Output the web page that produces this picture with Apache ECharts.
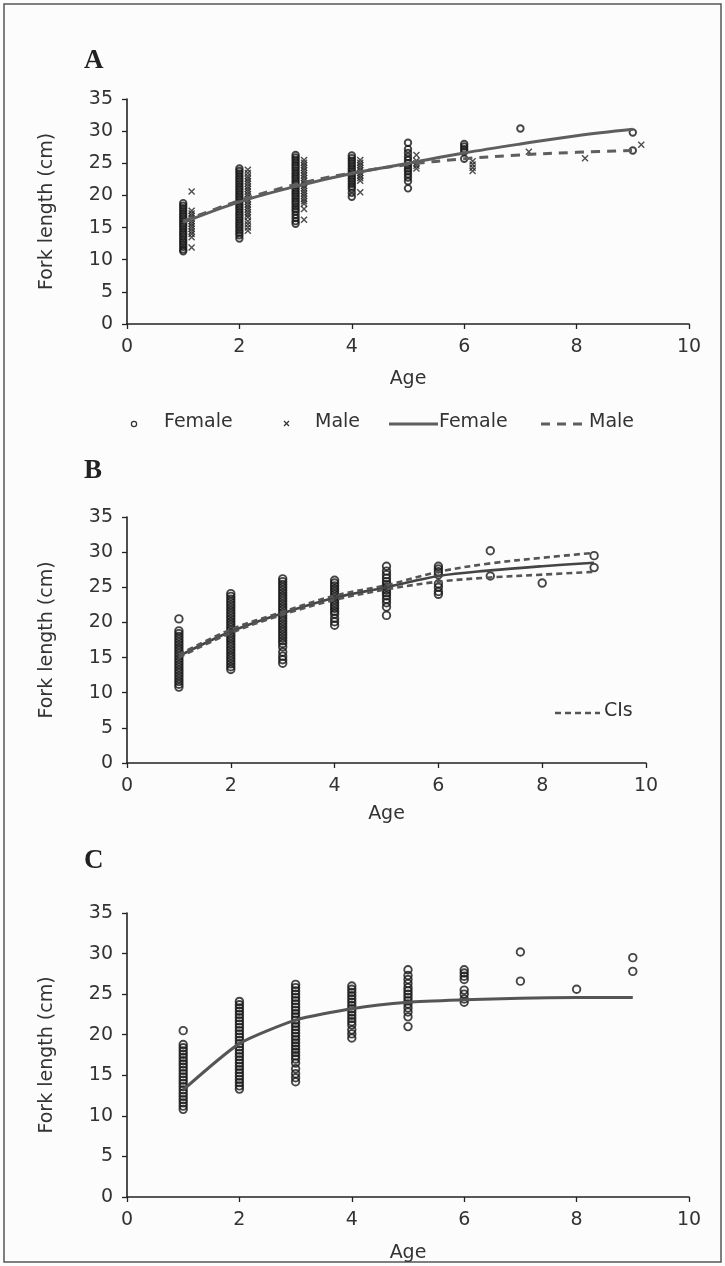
<!DOCTYPE html>
<html>
<head>
<meta charset="utf-8">
<script src="https://cdn.jsdelivr.net/npm/echarts@6/dist/echarts.min.js"></script>
<style>
  html, body { margin: 0; padding: 0; background: #fcfcfc; }
  #chart { width: 725px; height: 1266px; }
</style>
</head>
<body>
<div id="chart"></div>
<script>
// ages of the fitted curves
const curveAges = [1, 2, 3, 4, 5, 6, 7, 8, 9];

// panel A: females (circles) and males (crosses, drawn just right of the age)
const femaleAgesA = [1, 2, 3, 4, 5, 6, 7, 9];
const femaleLengthsA = [
  [18.8, 18.4, 18.0, 17.6, 17.2, 16.8, 16.4, 16.0, 15.6, 15.2, 14.8, 14.4, 14.0, 13.6, 13.2, 12.8, 12.4, 12.0, 11.6, 11.3],
  [24.2, 23.8, 23.4, 23.0, 22.6, 22.2, 21.8, 21.4, 21.0, 20.6, 20.2, 19.8, 19.4, 19.0, 18.6, 18.2, 17.8, 17.4, 17.0, 16.6, 16.2, 15.8, 15.4, 15.0, 14.6, 14.2, 13.8, 13.3],
  [26.3, 25.9, 25.5, 25.1, 24.7, 24.3, 23.9, 23.5, 23.1, 22.7, 22.3, 21.9, 21.5, 21.1, 20.7, 20.3, 19.9, 19.5, 19.1, 18.7, 18.3, 17.9, 17.5, 17.0, 16.5, 16.0, 15.6],
  [26.2, 25.8, 25.4, 25.0, 24.6, 24.2, 23.8, 23.4, 23.0, 22.6, 22.2, 21.8, 21.4, 21.0, 20.4, 19.8],
  [28.2, 27.2, 26.6, 26.0, 25.5, 25.0, 24.6, 24.2, 23.8, 23.3, 22.8, 22.2, 21.1],
  [28.0, 27.6, 27.2, 26.8, 25.7],
  [30.4],
  [29.8, 27.0]
];
const maleAgesA = [1.15, 2.15, 3.15, 4.15, 5.15, 6.15, 7.15, 8.15, 9.15];
const maleLengthsA = [
  [20.6, 17.6, 17.2, 16.8, 16.4, 16.0, 15.6, 15.2, 14.8, 14.4, 14.0, 13.5, 11.9],
  [24.0, 23.5, 23.0, 22.6, 22.2, 21.8, 21.4, 21.0, 20.6, 20.2, 19.8, 19.4, 19.0, 18.6, 18.2, 17.8, 17.4, 17.0, 16.6, 16.0, 15.5, 15.0, 14.5],
  [25.5, 25.1, 24.7, 24.3, 23.9, 23.5, 23.1, 22.7, 22.3, 21.9, 21.5, 21.1, 20.7, 20.3, 19.9, 19.5, 19.1, 18.7, 17.9, 16.2],
  [25.5, 25.1, 24.7, 24.3, 23.9, 23.5, 23.1, 22.7, 22.3, 20.5],
  [26.3, 25.4, 25.0, 24.6, 24.2],
  [25.3, 24.8, 24.3, 23.8],
  [26.8],
  [25.8],
  [27.9]
];
const femaleCurveA = [15.8, 19.0, 21.4, 23.4, 25.0, 26.6, 28.0, 29.3, 30.3];
const maleCurveA = [16.0, 19.2, 21.7, 23.5, 24.8, 25.7, 26.3, 26.7, 27.0];

// panels B and C: sexes combined
const allAges = [1, 2, 3, 4, 5, 6, 7, 8, 9];
const allLengths = [
  [20.5, 18.8, 18.4, 18.0, 17.6, 17.2, 16.8, 16.4, 16.0, 15.6, 15.2, 14.8, 14.4, 14.0, 13.6, 13.2, 12.8, 12.4, 12.0, 11.6, 11.2, 10.8],
  [24.1, 23.7, 23.3, 22.9, 22.5, 22.1, 21.7, 21.3, 20.9, 20.5, 20.1, 19.7, 19.3, 18.9, 18.5, 18.1, 17.7, 17.3, 16.9, 16.5, 16.1, 15.7, 15.3, 14.9, 14.5, 14.1, 13.7, 13.3],
  [26.2, 25.8, 25.4, 25.0, 24.6, 24.2, 23.8, 23.4, 23.0, 22.6, 22.2, 21.8, 21.4, 21.0, 20.6, 20.2, 19.8, 19.4, 19.0, 18.6, 18.2, 17.8, 17.4, 17.0, 16.5, 15.8, 15.2, 14.7, 14.2],
  [26.0, 25.6, 25.2, 24.8, 24.4, 24.0, 23.6, 23.2, 22.8, 22.4, 22.0, 21.6, 21.2, 20.6, 20.1, 19.6],
  [28.0, 27.3, 26.8, 26.3, 25.8, 25.4, 25.0, 24.6, 24.2, 23.8, 23.3, 22.8, 22.2, 21.0],
  [28.0, 27.6, 27.2, 26.8, 25.5, 25.0, 24.4, 24.0],
  [30.2, 26.6],
  [25.6],
  [29.5, 27.8]
];
const fitB = [15.2, 18.7, 21.3, 23.5, 25.0, 26.6, 27.4, 28.0, 28.5];
const upperB = [15.4, 19.0, 21.5, 23.8, 25.3, 27.2, 28.4, 29.2, 29.9];
const lowerB = [15.0, 18.5, 21.1, 23.2, 24.7, 25.8, 26.4, 26.8, 27.2];
const fitC = [13.2, 18.9, 21.8, 23.2, 24.0, 24.3, 24.5, 24.6, 24.6];

const yTicks = { min: 0, max: 35, interval: 5 };
const xTicks = { min: 0, max: 10, interval: 2 };

const FONT = "DejaVu Sans";
const INK = "#333";

const points = (ages, lengths) => {
  const out = [];
  ages.forEach((a, i) => lengths[i].forEach((v) => out.push([a, v])));
  return out;
};
const curve = (vals) => curveAges.map((a, i) => [a, vals[i]]);

const makeX = (idx, labelMargin, nameGap) => ({
  gridIndex: idx,
  type: "value",
  min: xTicks.min,
  max: xTicks.max,
  interval: xTicks.interval,
  name: "Age",
  nameLocation: "middle",
  nameGap: nameGap,
  nameTextStyle: { fontFamily: FONT, fontSize: 19, color: INK },
  axisLine: { show: true, onZero: false, lineStyle: { color: "#222", width: 1.6 } },
  axisTick: { show: true, length: 5, lineStyle: { color: "#222", width: 1.3 } },
  axisLabel: { margin: labelMargin, fontFamily: FONT, fontSize: 19, color: INK },
  splitLine: { show: false },
});
const makeY = (idx) => ({
  gridIndex: idx,
  type: "value",
  min: yTicks.min,
  max: yTicks.max,
  interval: yTicks.interval,
  name: "Fork length (cm)",
  nameLocation: "middle",
  nameGap: 70,
  nameTextStyle: { fontFamily: FONT, fontSize: 19, color: INK },
  axisLine: { show: true, lineStyle: { color: "#222", width: 1.6 } },
  axisTick: { show: true, length: 5, lineStyle: { color: "#222", width: 1.3 } },
  axisLabel: { margin: 14, fontFamily: FONT, fontSize: 19, color: INK },
  splitLine: { show: false },
});

const circleStyle = { color: "rgba(0,0,0,0)", borderColor: "#161616", borderWidth: 1.9 };
const crossPath = "path://M0,0L10,10M10,0L0,10";

const scatter = (idx, data, size) => ({
  type: "scatter",
  xAxisIndex: idx,
  yAxisIndex: idx,
  data: data,
  symbol: "circle",
  symbolSize: size,
  itemStyle: circleStyle,
  silent: true,
  z: 2,
});
const line = (idx, data, color, width, dash, z, smooth) => ({
  type: "line",
  xAxisIndex: idx,
  yAxisIndex: idx,
  data: data,
  smooth: smooth === undefined ? 0.35 : smooth,
  showSymbol: false,
  lineStyle: { color: color, width: width, type: dash || "solid" },
  silent: true,
  z: z || 3,
});

const chart = echarts.init(document.getElementById("chart"));

const textStyle = { fontFamily: FONT, fontSize: 19, fill: INK };
const letter = (t, y) => ({
  type: "text",
  left: 84,
  top: y - 14,
  style: { text: t, fontFamily: "Liberation Serif", fontWeight: "bold", fontSize: 27, fill: "#222" },
});

chart.setOption({
  backgroundColor: "#fcfcfc",
  animation: false,
  grid: [
    { left: 127, top: 99, width: 562, height: 225 },
    { left: 127, top: 517, width: 519, height: 246 },
    { left: 127, top: 913, width: 562, height: 284 },
  ],
  xAxis: [makeX(0, 14, 46), makeX(1, 14, 42), makeX(2, 14, 47)],
  yAxis: [makeY(0), makeY(1), makeY(2)],
  series: [
    // panel A
    scatter(0, points(femaleAgesA, femaleLengthsA), 6.5),
    {
      type: "scatter",
      xAxisIndex: 0,
      yAxisIndex: 0,
      data: points(maleAgesA, maleLengthsA),
      symbol: crossPath,
      symbolSize: 6,
      itemStyle: { color: "rgba(0,0,0,0)", borderColor: "#222", borderWidth: 1.4 },
      silent: true,
      z: 2,
    },
    line(0, curve(femaleCurveA), "#5e5e5e", 3),
    line(0, curve(maleCurveA), "#5e5e5e", 3, [9, 7]),
    // panel B
    scatter(1, points(allAges, allLengths), 7.5),
    line(1, curve(fitB), "#444", 2.6, "solid", 3),
    line(1, curve(upperB), "#555", 2.6, [6, 4], 4),
    line(1, curve(lowerB), "#555", 2.6, [6, 4], 4),
    // panel C
    scatter(2, points(allAges, allLengths), 7.5),
    line(2, curve(fitC), "#555", 3, "solid", 3, 0.2),
  ],
  graphic: [
    {
      type: "rect",
      shape: { x: 4, y: 4, width: 717, height: 1258 },
      style: { fill: "none", stroke: "#555", lineWidth: 1.5 },
    },
    letter("A", 62),
    letter("B", 472),
    letter("C", 862),
    // legend under panel A
    { type: "circle", shape: { cx: 134, cy: 424, r: 2.6 }, style: { fill: "none", stroke: "#333", lineWidth: 1.2 } },
    { type: "text", left: 164, top: 413, style: Object.assign({ text: "Female" }, textStyle) },
    {
      type: "group",
      children: [
        { type: "line", shape: { x1: 284, y1: 421, x2: 289, y2: 426 }, style: { stroke: "#333", lineWidth: 1.2 } },
        { type: "line", shape: { x1: 289, y1: 421, x2: 284, y2: 426 }, style: { stroke: "#333", lineWidth: 1.2 } },
      ],
    },
    { type: "text", left: 315, top: 413, style: Object.assign({ text: "Male" }, textStyle) },
    { type: "line", shape: { x1: 389, y1: 424, x2: 438, y2: 424 }, style: { stroke: "#5e5e5e", lineWidth: 3 } },
    { type: "text", left: 439, top: 413, style: Object.assign({ text: "Female" }, textStyle) },
    { type: "line", shape: { x1: 541, y1: 424, x2: 588, y2: 424 }, style: { stroke: "#5e5e5e", lineWidth: 3, lineDash: [9, 7] } },
    { type: "text", left: 589, top: 413, style: Object.assign({ text: "Male" }, textStyle) },
    // CIs key in panel B
    { type: "line", shape: { x1: 555, y1: 713, x2: 600, y2: 713 }, style: { stroke: "#555", lineWidth: 2.6, lineDash: [6, 4] } },
    { type: "text", left: 604, top: 702, style: Object.assign({ text: "CIs" }, textStyle) },
  ],
});
</script>
</body>
</html>
